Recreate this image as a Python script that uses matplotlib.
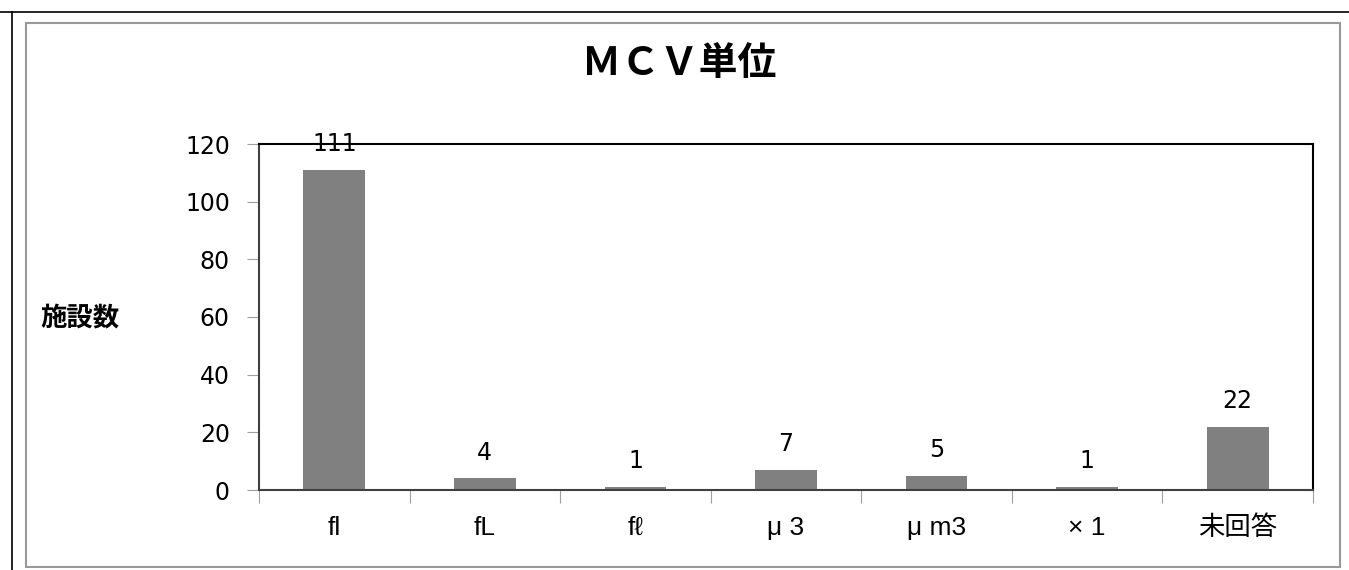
import matplotlib.pyplot as plt
from matplotlib.patches import Rectangle
from matplotlib.lines import Line2D

plt.rcParams['font.family'] = ['DejaVu Sans', 'Noto Sans CJK JP']

categories = ['fl', 'fL', 'fℓ', 'μ 3', 'μ m3', '× 1', '未回答']
counts = [111, 4, 1, 7, 5, 1, 22]
yticks = [0, 20, 40, 60, 80, 100, 120]

fig = plt.figure(figsize=(13.49, 5.70), dpi=100)

# outer frames
fig.add_artist(Line2D([0, 1], [1 - 12/570, 1 - 12/570], color='black', lw=1.2, transform=fig.transFigure))
fig.add_artist(Line2D([12/1349, 12/1349], [0, 1 - 12/570], color='black', lw=1.2, transform=fig.transFigure))
fig.add_artist(Rectangle((26/1349, 3/570), (1340-26)/1349, (567-23)/570, fill=False,
                         edgecolor='#999999', lw=1.5, transform=fig.transFigure))

ax = fig.add_axes([259/1349, 1 - 490/570, (1313-259)/1349, (490-144)/570])
x = range(len(counts))
ax.bar(x, counts, width=0.41, color='#808080')
ax.set_xlim(-0.5, len(counts) - 0.5)
ax.set_ylim(0, 120)
ax.set_yticks(yticks)
ax.set_yticklabels([str(v) for v in yticks], fontsize=17)
ax.tick_params(axis='y', length=9, color='#a0a0a0', pad=12)
ax.set_xticks([i - 0.5 for i in range(len(counts) + 1)])
ax.set_xticklabels([])
ax.tick_params(axis='x', length=9, color='#a0a0a0')
for i, lab in enumerate(categories):
    ax.text(i, -0.11, lab, transform=ax.get_xaxis_transform(), ha='center', va='center',
            fontsize=19, family=['Liberation Sans', 'Noto Sans CJK JP'])

for s in ['top', 'right']:
    ax.spines[s].set_color('black')
    ax.spines[s].set_linewidth(1.5)
for s in ['left', 'bottom']:
    ax.spines[s].set_color('#404040')
    ax.spines[s].set_linewidth(1.5)

for i, v in enumerate(counts):
    ax.annotate(str(v), (i, v), xytext=(0, 10), textcoords='offset points',
                ha='center', va='bottom', fontsize=17)

fig.text(679/1349, 1 - 64/570, 'ＭＣＶ単位', ha='center', va='center', fontsize=28, fontweight='bold',
         family=['Noto Sans CJK JP'])
fig.text(80/1349, 1 - 318/570, '施設数', ha='center', va='center', fontsize=19, fontweight='bold',
         family=['Noto Sans CJK JP'])

fig.savefig('out.png', dpi=100)
